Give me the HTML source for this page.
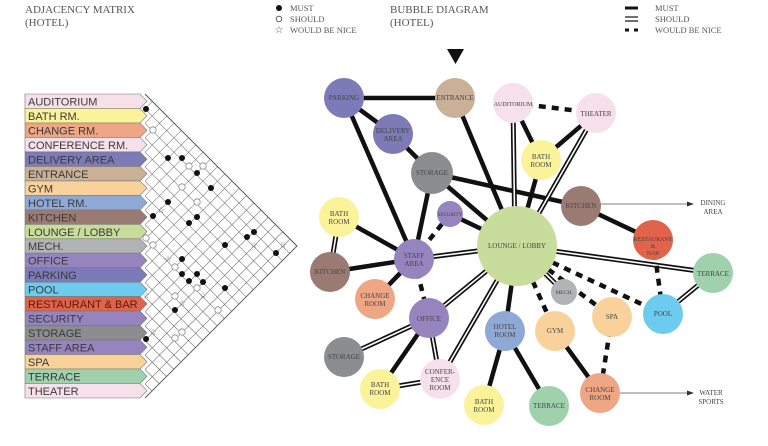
<!DOCTYPE html>
<html><head><meta charset="utf-8"><style>
html,body{margin:0;padding:0;background:#fff;}
svg{display:block;font-family:"Liberation Serif",serif;}
.lb{font-family:"Liberation Sans",sans-serif;font-size:11px;fill:#3a3a3a;}
.n{font-size:7px;fill:#444;text-anchor:middle;}
.h{font-size:11px;fill:#555;}
.lg{font-size:8.5px;fill:#555;}
.m{stroke:#111;stroke-width:4.5;}
.s1{stroke:#111;stroke-width:5;}
.s2{stroke:#fff;stroke-width:1.6;}
.d{stroke:#111;stroke-width:4.5;stroke-dasharray:7,6;}
</style></head><body>
<svg width="768" height="446" viewBox="0 0 768 446" xmlns="http://www.w3.org/2000/svg">
<defs>
<pattern id="g" patternUnits="userSpaceOnUse" x="145" y="94" width="10.24" height="10.24" patternTransform="rotate(45 145 94)">
<path d="M0 0H10.24M0 0V10.24" stroke="#555" stroke-width="0.9" fill="none"/>
</pattern>
<clipPath id="tri"><polygon points="145,94 297,246 145,398"/></clipPath>
</defs>
<!-- headings -->
<text x="25" y="13" class="h">ADJACENCY  MATRIX</text>
<text x="25" y="26" class="h">(HOTEL)</text>
<circle cx="279" cy="8" r="3" fill="#111"/>
<circle cx="279" cy="19" r="2.8" fill="none" stroke="#444" stroke-width="0.8"/>
<text x="279" y="33" font-size="10" fill="#555" text-anchor="middle">☆</text>
<text x="290" y="11" class="lg">MUST</text>
<text x="290" y="22" class="lg">SHOULD</text>
<text x="290" y="33" class="lg">WOULD BE NICE</text>
<text x="390" y="13" class="h">BUBBLE  DIAGRAM</text>
<text x="390" y="26" class="h">(HOTEL)</text>
<line x1="625" y1="8" x2="638" y2="8" stroke="#111" stroke-width="3"/>
<line x1="625" y1="17" x2="638" y2="17" stroke="#111" stroke-width="1.2"/>
<line x1="625" y1="21" x2="638" y2="21" stroke="#111" stroke-width="1.2"/>
<line x1="625" y1="30" x2="638" y2="30" stroke="#111" stroke-width="3" stroke-dasharray="4,5"/>
<text x="655" y="11" class="lg">MUST</text>
<text x="655" y="22" class="lg">SHOULD</text>
<text x="655" y="33" class="lg">WOULD BE NICE</text>
<polygon points="447,49 464,49 455.5,64" fill="#111"/>

<!-- matrix grid -->
<rect x="145" y="94" width="155" height="305" fill="url(#g)" clip-path="url(#tri)"/>
<polyline points="145,94 297,246 145,398" fill="none" stroke="#555" stroke-width="0.9"/>

<!-- label rows -->
<g stroke="#777" stroke-width="0.6">
<polygon points="25,94 140,94 147,101.2 140,108.5 25,108.5" fill="#f6e1ea"/>
<polygon points="25,108.5 140,108.5 147,115.7 140,123 25,123" fill="#fbf39a"/>
<polygon points="25,123 140,123 147,130.2 140,137.4 25,137.4" fill="#eea684"/>
<polygon points="25,137.4 140,137.4 147,144.7 140,151.9 25,151.9" fill="#f6e1ea"/>
<polygon points="25,151.9 140,151.9 147,159.2 140,166.4 25,166.4" fill="#7c7bb8"/>
<polygon points="25,166.4 140,166.4 147,173.6 140,180.9 25,180.9" fill="#c9b097"/>
<polygon points="25,180.9 140,180.9 147,188.1 140,195.3 25,195.3" fill="#f8d29a"/>
<polygon points="25,195.3 140,195.3 147,202.6 140,209.8 25,209.8" fill="#8fa9d6"/>
<polygon points="25,209.8 140,209.8 147,217.1 140,224.3 25,224.3" fill="#9a7b73"/>
<polygon points="25,224.3 140,224.3 147,231.5 140,238.8 25,238.8" fill="#c8dc9c"/>
<polygon points="25,238.8 140,238.8 147,246 140,253.2 25,253.2" fill="#b1b3b5"/>
<polygon points="25,253.2 140,253.2 147,260.5 140,267.7 25,267.7" fill="#9684bf"/>
<polygon points="25,267.7 140,267.7 147,274.9 140,282.2 25,282.2" fill="#7c7bb8"/>
<polygon points="25,282.2 140,282.2 147,289.4 140,296.6 25,296.6" fill="#6ccbef"/>
<polygon points="25,296.6 140,296.6 147,303.9 140,311.1 25,311.1" fill="#e0634a"/>
<polygon points="25,311.1 140,311.1 147,318.4 140,325.6 25,325.6" fill="#9684bf"/>
<polygon points="25,325.6 140,325.6 147,332.8 140,340.1 25,340.1" fill="#8b8d8f"/>
<polygon points="25,340.1 140,340.1 147,347.3 140,354.5 25,354.5" fill="#9684bf"/>
<polygon points="25,354.5 140,354.5 147,361.8 140,369 25,369" fill="#f8d29a"/>
<polygon points="25,369 140,369 147,376.2 140,383.5 25,383.5" fill="#9ed1ac"/>
<polygon points="25,383.5 140,383.5 147,390.7 140,398 25,398" fill="#f6e1ea"/>
</g>
<g class="lb">
<text x="28" y="105.5">AUDITORIUM</text>
<text x="28" y="120">BATH RM.</text>
<text x="28" y="134.4">CHANGE RM.</text>
<text x="28" y="148.9">CONFERENCE RM.</text>
<text x="28" y="163.4">DELIVERY AREA</text>
<text x="28" y="177.9">ENTRANCE</text>
<text x="28" y="192.3">GYM</text>
<text x="28" y="206.8">HOTEL RM.</text>
<text x="28" y="221.3">KITCHEN</text>
<text x="28" y="235.8">LOUNGE / LOBBY</text>
<text x="28" y="250.2">MECH.</text>
<text x="28" y="264.7">OFFICE</text>
<text x="28" y="279.2">PARKING</text>
<text x="28" y="293.6">POOL</text>
<text x="28" y="308.1" fill="#5a1a10">RESTAURANT &amp; BAR</text>
<text x="28" y="322.6">SECURITY</text>
<text x="28" y="337.1">STORAGE</text>
<text x="28" y="351.5">STAFF AREA</text>
<text x="28" y="366">SPA</text>
<text x="28" y="380.5">TERRACE</text>
<text x="28" y="395">THEATER</text>
</g>
<!-- matrix marks -->
<g fill="#111">
<circle cx="146" cy="109" r="3"/><circle cx="168" cy="158" r="3"/><circle cx="182" cy="158" r="3"/>
<circle cx="197" cy="173" r="3"/><circle cx="211" cy="188" r="3"/><circle cx="168" cy="202" r="3"/>
<circle cx="153" cy="216" r="3"/><circle cx="197" cy="217" r="3"/><circle cx="189" cy="223" r="3"/>
<circle cx="254" cy="232" r="3"/><circle cx="247" cy="237" r="3"/><circle cx="225" cy="245" r="3"/>
<circle cx="276" cy="253" r="3"/><circle cx="182" cy="259" r="3"/><circle cx="182" cy="274" r="3"/>
<circle cx="197" cy="274" r="3"/><circle cx="189" cy="281" r="3"/><circle cx="203" cy="282" r="3"/>
<circle cx="225" cy="288" r="3"/><circle cx="175" cy="310" r="3"/><circle cx="146" cy="339" r="3"/>
</g>
<g fill="#fff" stroke="#888" stroke-width="0.8">
<circle cx="153" cy="130" r="3.2"/><circle cx="189" cy="166" r="3.2"/><circle cx="203" cy="166" r="3.2"/>
<circle cx="182" cy="187" r="3.2"/><circle cx="197" cy="202" r="3.2"/><circle cx="146" cy="238" r="3.2"/>
<circle cx="153" cy="245" r="3.2"/><circle cx="175" cy="267" r="3.2"/><circle cx="197" cy="288" r="3.2"/>
<circle cx="175" cy="296" r="3.2"/><circle cx="218" cy="310" r="3.2"/><circle cx="182" cy="332" r="3.2"/>
<circle cx="175" cy="338" r="3.2"/>
</g>
<g font-size="9" fill="#777" text-anchor="middle">
<text x="161" y="213">☆</text><text x="254" y="248">☆</text><text x="283" y="248">☆</text>
<text x="168" y="262">☆</text><text x="203" y="298">☆</text><text x="146" y="298">☆</text>
<text x="182" y="306">☆</text><text x="153" y="335">☆</text>
</g>

<!-- connectors: must -->
<g class="m" fill="none">
<line x1="344" y1="98" x2="455" y2="98"/>
<line x1="344" y1="98" x2="393" y2="134"/>
<line x1="344" y1="98" x2="414" y2="259"/>
<line x1="393" y1="134" x2="432" y2="173"/>
<line x1="455" y1="98" x2="517" y2="246"/>
<line x1="513" y1="103" x2="541" y2="160"/>
<line x1="596" y1="113" x2="541" y2="160"/>
<line x1="541" y1="160" x2="517" y2="246"/>
<line x1="432" y1="173" x2="581" y2="206"/>
<line x1="432" y1="173" x2="517" y2="246"/>
<line x1="432" y1="173" x2="414" y2="259"/>
<line x1="581" y1="206" x2="653" y2="240"/>
<line x1="450" y1="214" x2="517" y2="246"/>
<line x1="339" y1="217" x2="414" y2="259"/>
<line x1="330" y1="272" x2="414" y2="259"/>
<line x1="375" y1="299" x2="414" y2="259"/>
<line x1="517" y1="246" x2="505" y2="331"/>
<line x1="429" y1="318" x2="380" y2="389"/>
<line x1="505" y1="331" x2="484" y2="405"/>
<line x1="505" y1="331" x2="549" y2="406"/>
<line x1="555" y1="331" x2="600" y2="393"/>
</g>
<!-- should: double -->
<g class="s1" fill="none">
<line x1="513" y1="103" x2="515" y2="246"/>
<line x1="596" y1="113" x2="520" y2="246"/>
<line x1="517" y1="246" x2="713" y2="273"/>
<line x1="713" y1="273" x2="663" y2="314"/>
<line x1="517" y1="246" x2="564" y2="292"/>
<line x1="517" y1="246" x2="429" y2="318"/>
<line x1="517" y1="246" x2="440" y2="379"/>
<line x1="517" y1="246" x2="414" y2="259"/>
<line x1="339" y1="217" x2="330" y2="272"/>
<line x1="429" y1="318" x2="344" y2="357"/>
<line x1="429" y1="318" x2="440" y2="379"/>
<line x1="440" y1="379" x2="380" y2="389"/>
</g>
<g class="s2" fill="none">
<line x1="513" y1="103" x2="515" y2="246"/>
<line x1="596" y1="113" x2="520" y2="246"/>
<line x1="517" y1="246" x2="713" y2="273"/>
<line x1="713" y1="273" x2="663" y2="314"/>
<line x1="517" y1="246" x2="564" y2="292"/>
<line x1="517" y1="246" x2="429" y2="318"/>
<line x1="517" y1="246" x2="440" y2="379"/>
<line x1="517" y1="246" x2="414" y2="259"/>
<line x1="339" y1="217" x2="330" y2="272"/>
<line x1="429" y1="318" x2="344" y2="357"/>
<line x1="429" y1="318" x2="440" y2="379"/>
<line x1="440" y1="379" x2="380" y2="389"/>
</g>
<!-- would be nice: dashed -->
<g class="d" fill="none">
<line x1="513" y1="103" x2="596" y2="113"/>
<line x1="653" y1="240" x2="663" y2="314"/>
<line x1="517" y1="246" x2="663" y2="314"/>
<line x1="517" y1="246" x2="612" y2="317"/>
<line x1="517" y1="246" x2="555" y2="331"/>
<line x1="450" y1="214" x2="414" y2="259"/>
<line x1="414" y1="259" x2="429" y2="318"/>
<line x1="612" y1="317" x2="600" y2="393"/>
</g>
<!-- arrows -->
<line x1="600" y1="204" x2="688" y2="204" stroke="#555" stroke-width="0.8"/>
<polygon points="694,204 687,201.5 687,206.5" fill="#333"/>
<line x1="620" y1="393" x2="688" y2="393" stroke="#555" stroke-width="0.8"/>
<polygon points="694,393 687,390.5 687,395.5" fill="#333"/>
<text x="713" y="205" class="n" font-size="7.5">DINING</text>
<text x="713" y="214" class="n" font-size="7.5">AREA</text>
<text x="711" y="395" class="n" font-size="7.5">WATER</text>
<text x="711" y="404" class="n" font-size="7.5">SPORTS</text>

<!-- nodes -->
<g>
<circle cx="344" cy="98" r="20" fill="#7c7bb8"/>
<circle cx="455" cy="98" r="20" fill="#c9b097"/>
<circle cx="513" cy="103" r="20" fill="#f6e1ea"/>
<circle cx="596" cy="113" r="20" fill="#f6e1ea"/>
<circle cx="393" cy="134" r="20" fill="#7c7bb8"/>
<circle cx="541" cy="160" r="20" fill="#fbf39a"/>
<circle cx="432" cy="173" r="21" fill="#8b8d8f"/>
<circle cx="581" cy="206" r="20" fill="#9a7b73"/>
<circle cx="339" cy="217" r="20" fill="#fbf39a"/>
<circle cx="450" cy="214" r="13" fill="#9684bf"/>
<circle cx="517" cy="246" r="40" fill="#c8dc9c"/>
<circle cx="653" cy="240" r="20" fill="#e0634a"/>
<circle cx="414" cy="259" r="20" fill="#9684bf"/>
<circle cx="330" cy="272" r="20" fill="#9a7b73"/>
<circle cx="713" cy="273" r="20" fill="#9ed1ac"/>
<circle cx="375" cy="299" r="20" fill="#eea684"/>
<circle cx="564" cy="292" r="13" fill="#b1b3b5"/>
<circle cx="612" cy="317" r="20" fill="#f8d29a"/>
<circle cx="663" cy="314" r="20" fill="#6ccbef"/>
<circle cx="429" cy="318" r="20" fill="#9684bf"/>
<circle cx="505" cy="331" r="20" fill="#8fa9d6"/>
<circle cx="555" cy="331" r="20" fill="#f8d29a"/>
<circle cx="344" cy="357" r="20" fill="#8b8d8f"/>
<circle cx="380" cy="389" r="20" fill="#fbf39a"/>
<circle cx="440" cy="379" r="20" fill="#f6e1ea"/>
<circle cx="484" cy="405" r="20" fill="#fbf39a"/>
<circle cx="549" cy="406" r="20" fill="#9ed1ac"/>
<circle cx="600" cy="393" r="20" fill="#eea684"/>
</g>
<g class="n">
<text x="344" y="100">PARKING</text>
<text x="455" y="100">ENTRANCE</text>
<text x="513" y="106" font-size="6">AUDITORIUM</text>
<text x="596" y="116">THEATER</text>
<text x="393" y="133">DELIVERY</text><text x="393" y="141">AREA</text>
<text x="541" y="159">BATH</text><text x="541" y="167">ROOM</text>
<text x="432" y="175">STORAGE</text>
<text x="581" y="208">KITCHEN</text>
<text x="339" y="216">BATH</text><text x="339" y="224">ROOM</text>
<text x="450" y="216" font-size="5">SECURITY</text>
<text x="517" y="248">LOUNGE / LOBBY</text>
<text x="653" y="241" font-size="6">RESTAURANT</text><text x="653" y="248" font-size="6">&amp;</text><text x="653" y="255" font-size="6">BAR</text>
<text x="414" y="258">STAFF</text><text x="414" y="266">AREA</text>
<text x="330" y="274">KITCHEN</text>
<text x="713" y="276">TERRACE</text>
<text x="375" y="298">CHANGE</text><text x="375" y="306">ROOM</text>
<text x="564" y="294" font-size="5.5">MECH.</text>
<text x="612" y="319">SPA</text>
<text x="663" y="316">POOL</text>
<text x="429" y="321">OFFICE</text>
<text x="505" y="329">HOTEL</text><text x="505" y="337">ROOM</text>
<text x="555" y="333">GYM</text>
<text x="344" y="359">STORAGE</text>
<text x="380" y="387">BATH</text><text x="380" y="395">ROOM</text>
<text x="440" y="374">CONFER-</text><text x="440" y="382">ENCE</text><text x="440" y="390">ROOM</text>
<text x="484" y="404">BATH</text><text x="484" y="412">ROOM</text>
<text x="549" y="408">TERRACE</text>
<text x="600" y="392">CHANGE</text><text x="600" y="400">ROOM</text>
</g>
</svg>
</body></html>
